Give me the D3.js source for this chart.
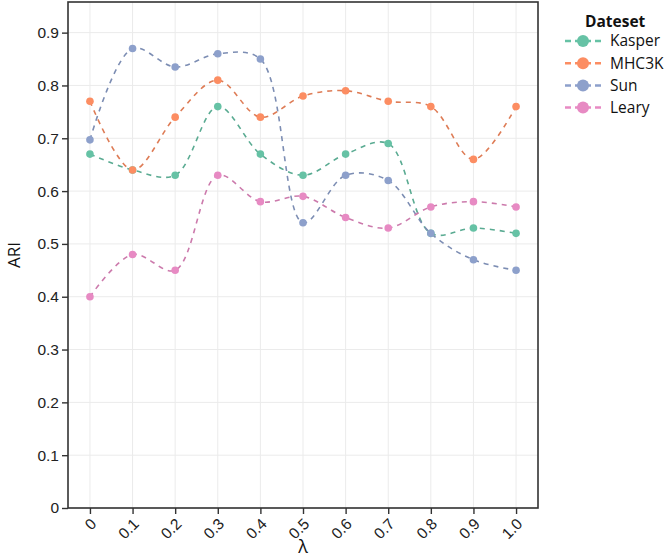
<!DOCTYPE html>
<html><head><meta charset="utf-8">
<script src="https://cdn.jsdelivr.net/npm/d3@7"></script>
<style>body{margin:0;background:#fff}svg{font-family:"Open Sans","Noto Sans",sans-serif}</style>
</head><body><svg id="c" width="667" height="559"></svg>
<script>
const lambdas = ["0","0.1","0.2","0.3","0.4","0.5","0.6","0.7","0.8","0.9","1.0"];
const kasper = [0.67,0.64,0.63,0.76,0.67,0.63,0.67,0.69,0.52,0.53,0.52];
const mhc3k  = [0.77,0.64,0.74,0.81,0.74,0.78,0.79,0.77,0.76,0.66,0.76];
const sun    = [0.697,0.87,0.835,0.86,0.85,0.54,0.63,0.62,0.52,0.47,0.45];
const leary  = [0.40,0.48,0.45,0.63,0.58,0.59,0.55,0.53,0.57,0.58,0.57];
const seriesNames = ["Kasper","MHC3K","Sun","Leary"];
const colors = ["#66c2a5","#fc8d62","#8da0cb","#e78ac3"];
const yTicks = [0,0.1,0.2,0.3,0.4,0.5,0.6,0.7,0.8,0.9];

const series = [kasper, mhc3k, sun, leary];
const svg = d3.select("#c");
const L=68, R=538, T=2, B=508;
const x = d3.scalePoint().domain(lambdas).range([L,R]).padding(0.515);
const y = d3.scaleLinear().domain([0,0.958]).range([B,T]);

// grid
svg.append("g").selectAll("line").data(yTicks).join("line")
  .attr("x1",L).attr("x2",R).attr("y1",d=>y(d)).attr("y2",d=>y(d))
  .attr("stroke","#ebebeb").attr("stroke-width",1);
svg.append("g").selectAll("line").data(lambdas).join("line")
  .attr("x1",d=>x(d)).attr("x2",d=>x(d)).attr("y1",T).attr("y2",B)
  .attr("stroke","#ebebeb").attr("stroke-width",1);

// lines
const line = d3.line().x((d,i)=>x(lambdas[i])).y(d=>y(d)).curve(d3.curveCatmullRom.alpha(0.5));
series.forEach((s,k)=>{
  svg.append("path").attr("d",line(s)).attr("fill","none")
    .attr("stroke",d3.color(colors[k]).darker(0.35)).attr("stroke-width",1.6)
    .attr("stroke-dasharray","5,5");
});
series.forEach((s,k)=>{
  svg.append("g").selectAll("circle").data(s).join("circle")
    .attr("cx",(d,i)=>x(lambdas[i])).attr("cy",d=>y(d)).attr("r",3.8)
    .attr("fill",colors[k]);
});

// border
svg.append("rect").attr("x",L).attr("y",T).attr("width",R-L).attr("height",B-T)
  .attr("fill","none").attr("stroke","#333").attr("stroke-width",1.6);

// y axis
const ya = svg.append("g").attr("transform",`translate(${L},0)`)
  .call(d3.axisLeft(y).tickValues(yTicks).tickFormat(d=>d===0?"0":d3.format(".1f")(d)).tickSize(6).tickSizeOuter(0));
ya.select(".domain").remove();
ya.selectAll("line").attr("stroke","#333").attr("stroke-width",1.4);
ya.selectAll("text").attr("font-size",15.5).attr("fill","#222").attr("x",-9);

// x axis
const xa = svg.append("g").attr("transform",`translate(0,${B})`)
  .call(d3.axisBottom(x).tickSize(6).tickSizeOuter(0));
xa.select(".domain").remove();
xa.selectAll("line").attr("stroke","#333").attr("stroke-width",1.4);
xa.selectAll("text").attr("font-size",15.5).attr("fill","#222")
  .attr("text-anchor","end").attr("dy","0.35em").attr("y",0)
  .attr("transform","translate(3,13) rotate(-45)");

// axis titles
svg.append("text").attr("transform",`translate(20,${(T+B)/2}) rotate(-90)`)
  .attr("text-anchor","middle").attr("font-size",17).attr("fill","#111").text("ARI");
svg.append("text").attr("x",(L+R)/2).attr("y",553).attr("text-anchor","middle")
  .attr("font-size",18).attr("fill","#111").text("λ");

// legend
const lg = svg.append("g");
lg.append("text").attr("x",585).attr("y",27).attr("font-size",15.5).attr("font-weight","bold").attr("fill","#111").text("Dateset");
seriesNames.forEach((n,k)=>{
  const yy = 41 + k*22.2;
  lg.append("line").attr("x1",565).attr("x2",602).attr("y1",yy).attr("y2",yy)
    .attr("stroke",colors[k]).attr("stroke-width",2.5).attr("stroke-dasharray","6,4");
  lg.append("circle").attr("cx",583).attr("cy",yy).attr("r",6).attr("fill",colors[k]);
  lg.append("text").attr("x",610).attr("y",yy).attr("dy","0.35em").attr("font-size",15.5).attr("fill","#111").text(n);
});
</script></body></html>
